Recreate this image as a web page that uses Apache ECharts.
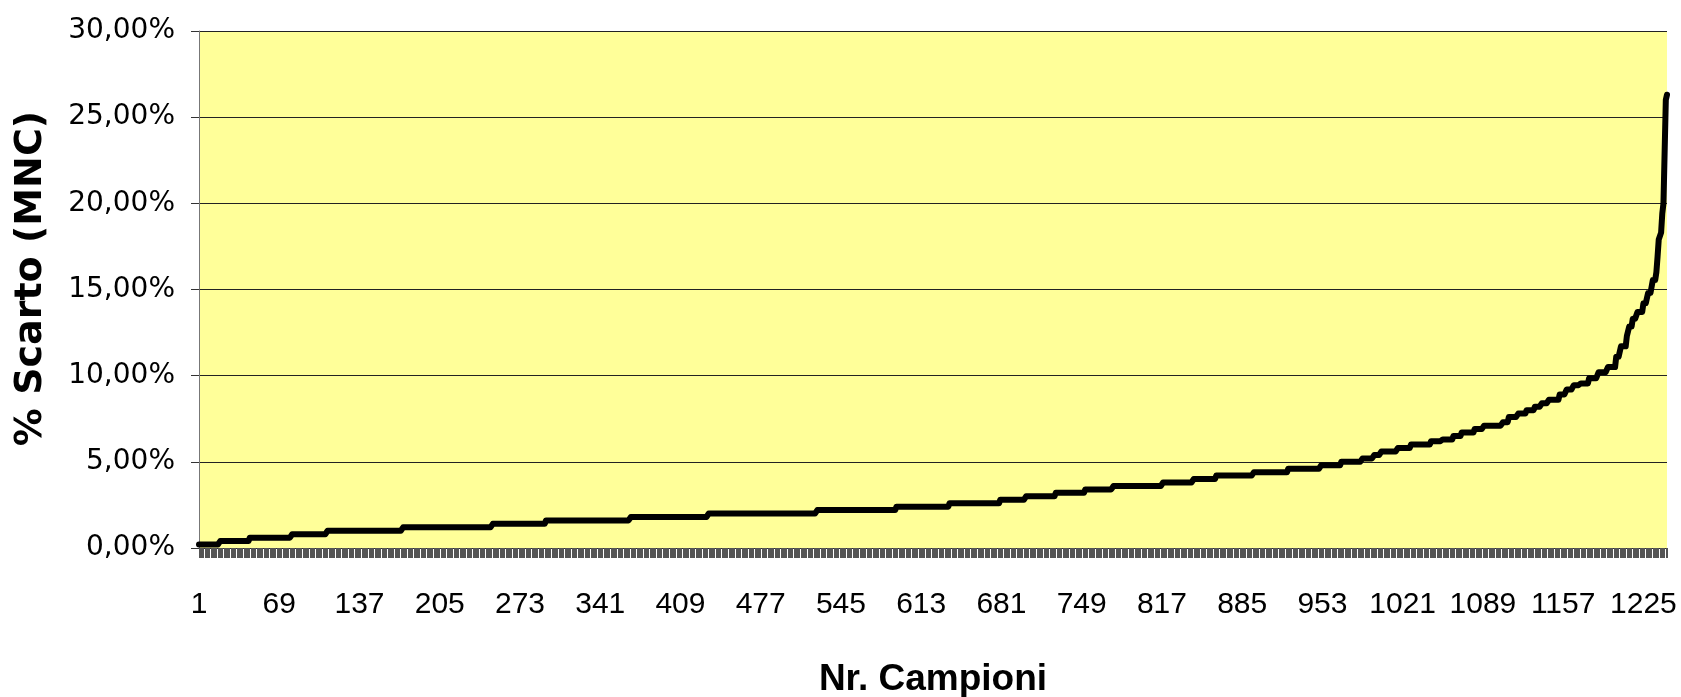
<!DOCTYPE html>
<html>
<head>
<meta charset="utf-8">
<script src="https://cdn.jsdelivr.net/npm/echarts@6/dist/echarts.min.js"></script>
<style>
html,body{margin:0;padding:0;background:#fff;}
#chart{width:1681px;height:697px;}
</style>
</head>
<body>
<div id="chart"></div>
<script>
const levels = [0.2,0.4,0.6,0.8,1.0,1.2,1.4,1.6,1.8,2.0,2.2,2.4,2.6,2.8,3.0,3.2,3.4,3.6,3.8,4.0,4.2,4.4,4.6,4.8,5.0,5.2,5.4,5.6,5.8,6.0,6.2,6.3,6.5,6.7,6.9,7.1,7.3,7.6,7.8,8.0,8.2,8.4,8.6,8.9,9.2,9.45,9.55,9.85,10.2,10.5,11.1,11.7,12.3,12.85,13.3,13.7,14.2,14.8,15.55,16.0,16.9,17.9,18.3,19.4,20.0,26.0,26.3];
const counts = [18,25,36,30,64,76,45,72,66,92,67,45,43,22,25,25,24,42,26,19,32,29,28,17,18,10,6,14,11,17,9,10,7,11,8,16,5,8,7,7,6,6,9,6,6,6,7,8,8,7,4,5,2,3,4,5,4,4,3,1,1,2,1,1,2,1,1];
const yTicks = [0,5,10,15,20,25,30];
const xTitle = 'Nr. Campioni';
const yTitle = '% Scarto (MNC)';

const values = [];
levels.forEach((v, i) => { for (let k = 0; k < counts[i]; k++) values.push(v); });
const categories = values.map((_, i) => String(i + 1));

const chart = echarts.init(document.getElementById('chart'), null, {renderer: 'canvas'});
chart.setOption({
  animation: false,
  backgroundColor: '#ffffff',
  grid: {left: 199, right: 14, top: 31, bottom: 149, show: true, backgroundColor: '#FFFF99', borderWidth: 0,
    containLabel: false, outerBoundsMode: 'none'},
  xAxis: {
    type: 'category',
    data: categories,
    boundaryGap: false,
    name: xTitle,
    nameLocation: 'middle',
    nameGap: 113,
    nameTextStyle: {fontFamily: '"Liberation Sans",Arial,sans-serif', fontWeight: 'bold', fontSize: 37, color: '#000'},
    axisLine: {show: true, lineStyle: {color: '#333', width: 1}},
    axisTick: {show: true, interval: 0, length: 10, lineStyle: {color: '#555', width: 1}},
    axisLabel: {interval: 67, margin: 42, fontFamily: '"Liberation Sans",Arial,sans-serif', fontSize: 30, color: '#000'},
    splitLine: {show: false}
  },
  yAxis: {
    type: 'value',
    min: yTicks[0],
    max: yTicks[yTicks.length - 1],
    interval: 5,
    name: yTitle,
    nameLocation: 'middle',
    nameRotate: 90,
    nameGap: 149,
    nameTextStyle: {fontFamily: '"DejaVu Sans",sans-serif', fontWeight: 'bold', fontSize: 38, color: '#000', padding: [0, 0, 0, 22]},
    axisLine: {show: true, lineStyle: {color: '#777', width: 1}},
    axisTick: {show: true, length: 8, lineStyle: {color: '#333'}},
    axisLabel: {margin: 24, fontFamily: '"DejaVu Sans",sans-serif', fontSize: 28, color: '#000',
      formatter: v => v.toFixed(2).replace('.', ',') + '%'},
    splitLine: {show: true, lineStyle: {color: '#222', width: 1}}
  },
  series: [{
    type: 'line',
    data: values,
    symbol: 'none',
    sampling: null,
    lineStyle: {color: '#000', width: 6, cap: 'round', join: 'round'}
  }]
});
</script>
</body>
</html>
